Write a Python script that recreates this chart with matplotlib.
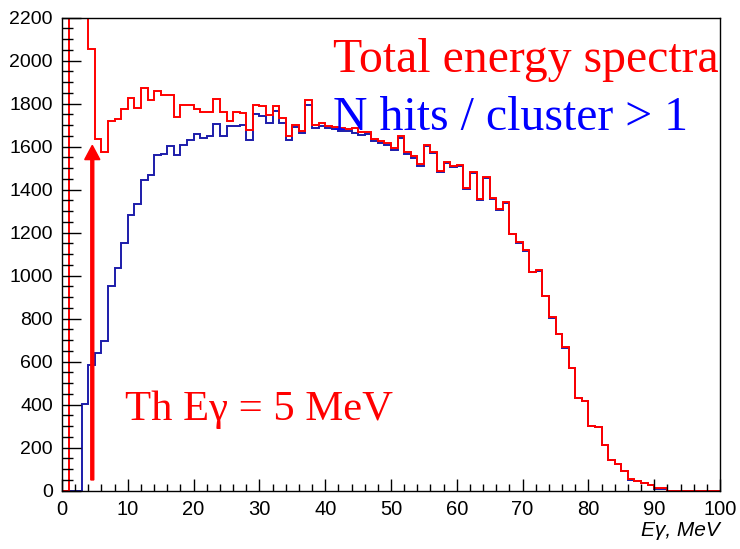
import numpy as np
import matplotlib
matplotlib.use("Agg")
import matplotlib.pyplot as plt

# 1 MeV bins from 0 to 100 MeV
bin_edges = list(range(0, 101))

# total energy spectrum (bins 1-3 go far above the axis top)
total_counts = [
    0, 4000, 3000, 2500, 2055, 1637, 1575, 1721, 1730, 1777,
    1827, 1780, 1873, 1816, 1858, 1842, 1842, 1737, 1796, 1796,
    1775, 1760, 1760, 1822, 1760, 1721, 1760, 1755, 1678, 1793,
    1788, 1746, 1788, 1734, 1648, 1702, 1671, 1819, 1700, 1712,
    1698, 1692, 1685, 1682, 1685, 1667, 1670, 1636, 1625, 1615,
    1594, 1648, 1576, 1556, 1518, 1607, 1576, 1488, 1528, 1512,
    1515, 1408, 1481, 1355, 1460, 1361, 1310, 1345, 1195, 1156,
    1118, 1019, 1026, 907, 806, 730, 668, 570, 433, 418,
    303, 295, 213, 143, 123, 91, 53, 44, 37, 27,
    11, 11, 0, 0, 0, 0, 0, 0, 0, 0,
]

# N hits / cluster > 1
multi_hit_counts = [
    0, 0, 0, 402, 585, 640, 694, 953, 1035, 1152,
    1280, 1335, 1446, 1470, 1563, 1567, 1605, 1563, 1610, 1630,
    1659, 1641, 1648, 1706, 1648, 1698, 1698, 1699, 1633, 1752,
    1741, 1710, 1768, 1710, 1633, 1690, 1664, 1793, 1687, 1695,
    1687, 1680, 1675, 1672, 1665, 1656, 1660, 1628, 1617, 1608,
    1585, 1642, 1568, 1549, 1510, 1602, 1570, 1481, 1524, 1507,
    1511, 1404, 1477, 1350, 1456, 1357, 1307, 1340, 1192, 1153,
    1115, 1017, 1024, 905, 804, 728, 666, 569, 432, 417,
    302, 294, 212, 142, 122, 90, 52, 43, 36, 26,
    10, 10, 0, 0, 0, 0, 0, 0, 0, 0,
]

threshold_mev = 4.6
arrow_from, arrow_to = 50, 1606

fig = plt.figure(figsize=(7.4, 5.49), dpi=100)
ax = fig.add_axes([0.0838, 0.1062, 0.8892, 0.8616])

ax.stairs(multi_hit_counts, bin_edges, color="#1c1caa", lw=1.4, baseline=None)
ax.stairs(total_counts, bin_edges, color="#ff0000", lw=1.4, baseline=None)

ax.set_xlim(0, 100)
ax.set_ylim(0, 2200)
ax.set_xticks(np.arange(0, 101, 10))
ax.set_xticks(np.arange(0, 101, 2), minor=True)
ax.set_yticks(np.arange(0, 2201, 200))
ax.set_yticks(np.arange(0, 2201, 50), minor=True)

ax.tick_params(axis="both", which="both", direction="in", top=False, right=False,
               color="black", width=1.0, labelsize=14)
ax.tick_params(axis="y", which="major", length=13.9, pad=6.5)
ax.tick_params(axis="y", which="minor", length=7.9)
ax.tick_params(axis="x", which="major", length=8.6, pad=6.5, labelsize=14.5)
ax.tick_params(axis="x", which="minor", length=5)
for lab in ax.get_xticklabels() + ax.get_yticklabels():
    lab.set_family("Liberation Sans")
for s in ax.spines.values():
    s.set_linewidth(1.0)
    s.set_color("black")

# threshold arrow
ax.arrow(threshold_mev, arrow_from, 0, arrow_to - arrow_from, width=0.45,
         head_width=2.3, head_length=66, length_includes_head=True,
         color="red", zorder=5)

fig.text(0.1689, 0.235, "Th Eγ = 5 MeV", color="red",
         family="Liberation Serif", fontsize=30.7, ha="left", va="baseline")
fig.text(0.45, 0.8689, "Total energy spectra", color="red",
         family="Liberation Serif", fontsize=34.4, ha="left", va="baseline")
fig.text(0.45, 0.7632, "N hits / cluster > 1", color="blue",
         family="Liberation Serif", fontsize=34.4, ha="left", va="baseline")

fig.text(0.973, 1 - 530 / 549, "Eγ, MeV", color="black", family="Liberation Sans",
         fontstyle="italic", fontsize=15, ha="right", va="center")

fig.savefig("out.png", dpi=100)
